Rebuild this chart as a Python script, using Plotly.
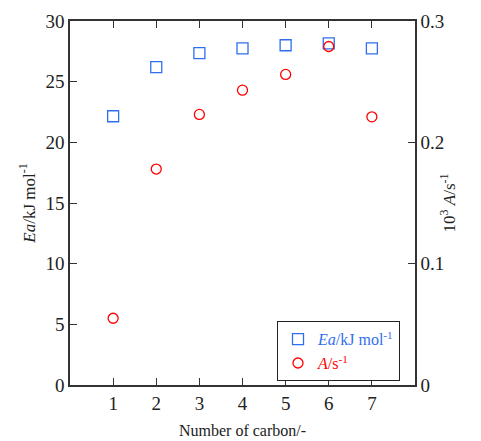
import plotly.graph_objects as go

carbon = [1, 2, 3, 4, 5, 6, 7]
ea = [22.15, 26.2, 27.35, 27.75, 28.0, 28.15, 27.75]
a_rate = [0.055, 0.178, 0.223, 0.243, 0.256, 0.279, 0.221]

blue = '#2f6fee'
red = '#ff0000'
axis_col = '#333333'
font = 'Liberation Serif, Times New Roman, serif'

trace0 = go.Scatter(
    x=carbon, y=ea,
    mode='markers',
    name='<span style="color:%s"><i>Ea</i>/kJ mol<sup>-1</sup></span>' % blue,
    marker=dict(symbol='square-open', size=11, color=blue, line=dict(width=1.3)),
)
trace1 = go.Scatter(
    x=carbon, y=a_rate,
    mode='markers', yaxis='y2',
    name='<span style="color:%s"><i>A</i>/s<sup>-1</sup></span>' % red,
    marker=dict(symbol='circle-open', size=10, color=red, line=dict(width=1.3)),
)

# page body has an 8px margin, so the figure is a bit smaller than the window
fig = go.Figure(data=[trace0, trace1])
fig.update_layout(
    width=473, height=433,
    margin=dict(l=62, r=66, t=13, b=56),
    paper_bgcolor='white', plot_bgcolor='white',
    font=dict(family=font, size=19, color='#222222'),
    showlegend=True,
    legend=dict(x=0.6, y=0.175, xanchor='left', yanchor='top',
                bordercolor='#222222', borderwidth=1, bgcolor='white',
                font=dict(size=16), tracegroupgap=0, itemwidth=30),
    xaxis=dict(range=[0, 8], tickvals=carbon, showgrid=False, zeroline=False,
               showline=True, linecolor=axis_col, linewidth=1.5, mirror='ticks',
               ticks='inside', ticklen=7, tickcolor=axis_col, automargin=False,
               title=dict(text='Number of carbon/-', font=dict(size=16), standoff=12)),
    yaxis=dict(range=[0, 30], dtick=5, showgrid=False, zeroline=False,
               showline=True, linecolor=axis_col, linewidth=1.5, automargin=False,
               ticks='inside', ticklen=7, tickcolor=axis_col,
               title=dict(text='<i>Ea</i>/kJ mol<sup>-1</sup>', font=dict(size=17), standoff=6)),
    yaxis2=dict(range=[0, 0.3], overlaying='y', side='right',
                showgrid=False, zeroline=False, automargin=False,
                showline=True, linecolor=axis_col, linewidth=1.5,
                ticks='inside', ticklen=7, tickcolor=axis_col,
                tickvals=[0, 0.1, 0.2, 0.3], ticktext=['0', '0.1', '0.2', '0.3'],
                title=dict(text='10<sup>3</sup> <i>A</i>/s<sup>-1</sup>', font=dict(size=17), standoff=0)),
)
fig.write_html('out.html')
